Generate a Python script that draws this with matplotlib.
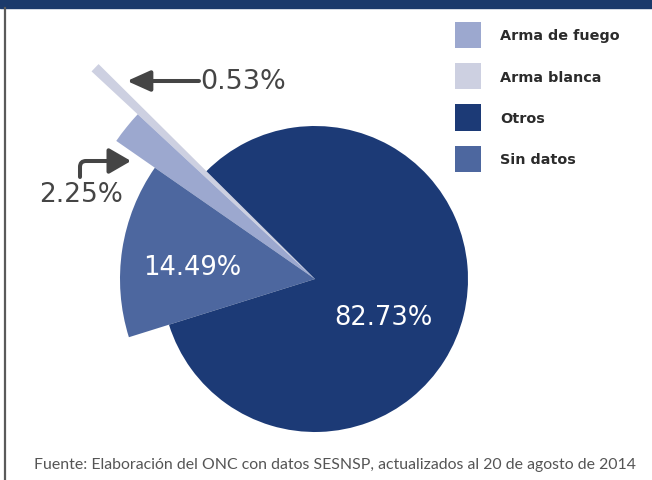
"""Pie chart - homicidios por tipo de arma (ONC / SESNSP, agosto 2014)."""
import matplotlib
matplotlib.use("Agg")
import matplotlib.pyplot as plt
from matplotlib.patches import Patch, Rectangle

CATEGORIES = ["Arma de fuego", "Arma blanca", "Otros", "Sin datos"]
VALUES = [2.25, 0.53, 82.73, 14.49]
COLORS = ["#9ca8cf", "#cdd0e1", "#1c3a76", "#4d679f"]
# drawing order around the pie (counterclockwise) and the length of each slice
PIE_ORDER = [1, 0, 3, 2]
SLICE_RADIUS = {"Arma de fuego": 242, "Arma blanca": 305, "Otros": 153, "Sin datos": 195}
SOURCE = "Fuente: Elaboración del ONC con datos SESNSP, actualizados al 20 de agosto de 2014"

W, H = 652, 481
plt.rcParams["font.family"] = ["DejaVu Sans"]

fig = plt.figure(figsize=(W / 100, H / 100), dpi=100)
ax = fig.add_axes([0, 0, 1, 1])

vals = [VALUES[i] for i in PIE_ORDER]
cols = [COLORS[i] for i in PIE_ORDER]
wedges, _ = ax.pie(vals, colors=cols, startangle=135.2, counterclock=True,
                   center=(315, 201), radius=153, frame=True,
                   wedgeprops=dict(linewidth=0))
for w, i in zip(wedges, PIE_ORDER):
    w.set_radius(SLICE_RADIUS[CATEGORIES[i]])
ax.set_xlim(0, W)
ax.set_ylim(0, H)
ax.set_aspect("equal")
ax.axis("off")

# header band and left rule
ax.add_patch(Rectangle((0, H - 9), W, 9, color="#1b3a6b", zorder=5))
ax.plot([5, 5], [0, H - 9], color="#5a5a5a", lw=1.6, zorder=5)

label_of = dict(zip(CATEGORIES, VALUES))
ax.text(192, 213, f"{label_of['Sin datos']:.2f}%", color="white", fontsize=18.5,
        ha="center", va="center")
ax.text(383, 163, f"{label_of['Otros']:.2f}%", color="white", fontsize=18.5,
        ha="center", va="center")

dark = "#454545"
ax.text(200, 399, f"{label_of['Arma blanca']:.2f}%", color=dark, fontsize=19.5,
        ha="left", va="center")
ax.annotate("", xy=(127, 399), xytext=(199, 399),
            arrowprops=dict(arrowstyle="-|>,head_length=1.0,head_width=0.45",
                            mutation_scale=14, color=dark, lw=2.9,
                            shrinkA=0, shrinkB=0))
ax.text(81, 286, f"{label_of['Arma de fuego']:.2f}%", color=dark, fontsize=19,
        ha="center", va="center")
ax.annotate("", xy=(131, 319), xytext=(80, 303),
            arrowprops=dict(arrowstyle="-|>,head_length=0.95,head_width=0.55",
                            mutation_scale=14, color=dark, lw=2.9,
                            connectionstyle="angle,angleA=90,angleB=0,rad=6",
                            shrinkA=0, shrinkB=0))

handles = [Patch(facecolor=c, edgecolor="none") for c in COLORS]
ax.legend(handles, CATEGORIES, loc="upper left", bbox_to_anchor=(455, H - 23),
          bbox_transform=ax.transData, frameon=False, borderpad=0,
          borderaxespad=0, handlelength=1.8, handleheight=2.4,
          handletextpad=1.35, labelspacing=1.05,
          prop=dict(family="DejaVu Sans", weight="bold", size=10.4),
          labelcolor="#2b2b2b")

ax.text(335, 16, SOURCE, color="#555555", fontsize=11.4, ha="center", va="center",
        family=["Lato", "DejaVu Sans"])

fig.savefig("out.png", dpi=100)
